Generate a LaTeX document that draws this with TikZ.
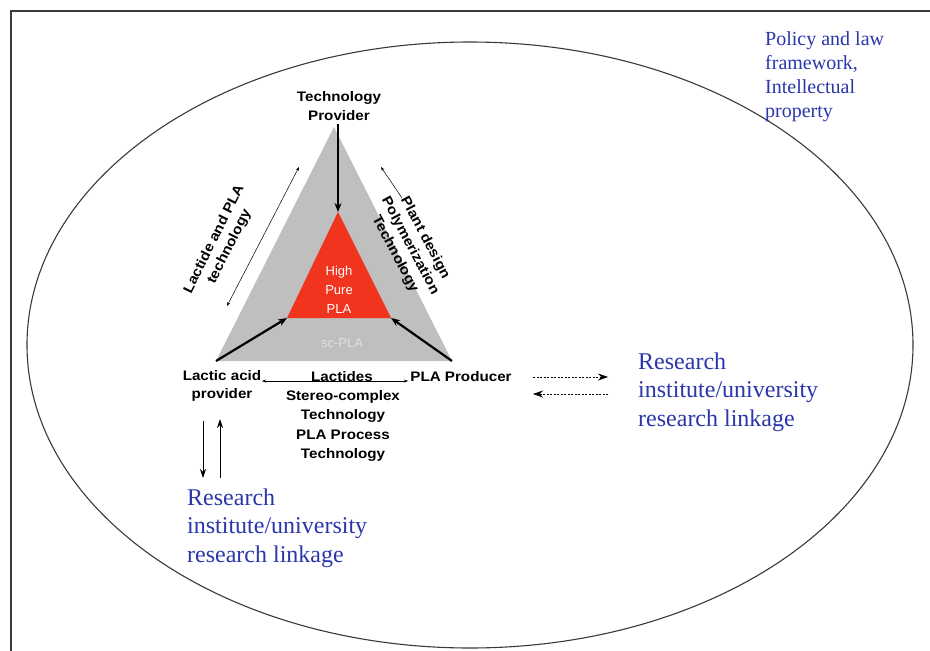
\documentclass[tikz,border=0pt]{standalone}
\usepackage{fontspec}
\setmainfont{Liberation Serif}
\newfontfamily\arialf{Liberation Sans}
\newfontfamily\arialw{Liberation Sans}[FakeStretch=1.1]
\usetikzlibrary{arrows.meta}
\definecolor{trigray}{HTML}{BFBFBF}
\definecolor{plared}{HTML}{F0341E}
\definecolor{linkblue}{HTML}{2A36AA}
\definecolor{framegray}{HTML}{3A3A3A}
\tikzset{
  lbl/.style={font=\arialw\bfseries\fontsize{13.8}{18.5}\selectfont, align=center, inner sep=0pt, text=black},
  wlbl/.style={font=\arialf\fontsize{13}{19}\selectfont, align=center, inner sep=0pt, text=white},
  bluetxt/.style={font=\fontsize{24}{28.5}\selectfont, align=left, inner sep=0pt, text=linkblue, anchor=west},
  poltxt/.style={font=\fontsize{20}{24}\selectfont, align=left, inner sep=0pt, text=linkblue, anchor=west},
  thickarr/.style={line width=2.2pt, -{Stealth[length=9pt,width=7pt]}},
  thinarr/.style={line width=0.5pt, {Stealth[length=4pt,width=3pt]}-{Stealth[length=4pt,width=3pt]}},
  vertarr/.style={line width=0.9pt, -{Stealth[length=9pt,width=6pt]}},
  dasharr/.style={line width=0.6pt, dash pattern=on 2pt off 1.5pt, -{Stealth[length=10pt,width=7pt]}}
}
\begin{document}
\begin{tikzpicture}[x=1pt,y=-1pt]
\useasboundingbox (0,0) rectangle (930,651);
\fill[white] (0,0) rectangle (930,651);
% frame
\draw[framegray, line width=1.6pt] (11,660) -- (11,11) -- (940,11);
% ellipse
\draw[framegray, line width=1.1pt] (470,345) ellipse [x radius=443, y radius=303];

% triangle corners
\coordinate (A) at (334,127);
\coordinate (BL) at (216,361);
\coordinate (BR) at (452,361);
\coordinate (R1) at (338,212);
\coordinate (R2) at (287,318);
\coordinate (R3) at (391,318);
\fill[trigray] (A) -- (BL) -- (BR) -- cycle;
\fill[plared] (R1) -- (R2) -- (R3) -- cycle;

% labels
\node[lbl] (tp) at (339,106) {Technology\\Provider};
\node[wlbl] (hp) at (339,290) {High\\Pure\\PLA};
\node[wlbl, text=white!88!black] (sc) at (342,343) {sc-PLA};
\node[lbl] (la) at (222,386) {Lactic acid\\provider};
\node[lbl] (lac) at (342,377) {Lactides};
\node[lbl] (pp) at (461,377) {PLA Producer};
\node[lbl, font=\arialw\bfseries\fontsize{13.8}{19.5}\selectfont] (stc) at (343,426) {Stereo-complex\\Technology\\PLA Process\\Technology};
\node[lbl, rotate=63.5, font=\arialw\bfseries\fontsize{13.8}{17}\selectfont] (lpla) at (222,243) {Lactide and PLA\\technology};
\node[lbl, rotate=-62, font=\arialw\bfseries\fontsize{13.8}{17}\selectfont] (plant) at (410,246) {Plant design\\Polymerization\\Technology};

% main arrows
\coordinate (tpS) at (338,124);
\draw[thickarr] (tpS) -- (R1);
\draw[thickarr] (BL) -- (R2);
\draw[thickarr] (BR) -- (R3);

% thin double arrows
\coordinate (l1) at (227,306);
\coordinate (l2) at (299,167);
\draw[thinarr] (l1) -- (l2);
\coordinate (r1) at (402,198);
\coordinate (r2) at (381,167);
\draw[line width=0.5pt, -{Stealth[length=4pt,width=3pt]}] (r1) -- (r2);
\coordinate (b1) at (262,381);
\coordinate (b2) at (408,381);
\draw[thinarr] (b1) -- (b2);

% vertical arrows to bottom research
\coordinate (d1) at (203,421);
\coordinate (d2) at (203,478);
\coordinate (u1) at (220,478);
\coordinate (u2) at (220,419);
\draw[vertarr] (d1) -- (d2);
\draw[vertarr] (u1) -- (u2);

% dashed arrows to right research
\coordinate (h1) at (533,377);
\coordinate (h2) at (608,377);
\coordinate (h3) at (608,394);
\coordinate (h4) at (533,394);
\draw[dasharr] (h1) -- (h2);
\draw[dasharr] (h3) -- (h4);

% blue texts
\node[bluetxt] (resL) at (187,528) {Research\\institute/university\\research linkage};
\node[bluetxt] (resR) at (638,392) {Research\\institute/university\\research linkage};
\node[poltxt] (pol) at (765,77) {Policy and law\\framework,\\Intellectual\\property};
\end{tikzpicture}
\end{document}
